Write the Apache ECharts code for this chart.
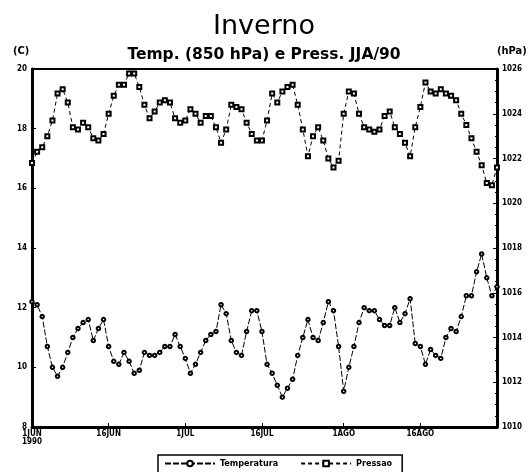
<!DOCTYPE html>
<html>
<head>
<meta charset="utf-8">
<script src="https://cdn.jsdelivr.net/npm/echarts@6/dist/echarts.min.js"></script>
<style>
  html, body { margin: 0; padding: 0; background: #fff; }
  #chart { width: 528px; height: 472px; }
</style>
</head>
<body>
<div id="chart"></div>
<script>
// Daily series, 1 June to 31 August 1990
const months = ['JUN', 'JUL', 'AGO'];
const monthLengths = [30, 31, 31];

// 850 hPa temperature (°C), one value per day
const temperature = [
  12.2, 12.1, 11.7, 10.7, 10.0, 9.7, 10.0, 10.5, 11.0, 11.3,
  11.5, 11.6, 10.9, 11.3, 11.6, 10.7, 10.2, 10.1, 10.5, 10.2,
  9.8, 9.9, 10.5, 10.4, 10.4, 10.5, 10.7, 10.7, 11.1, 10.7,
  10.3, 9.8, 10.1, 10.5, 10.9, 11.1, 11.2, 12.1, 11.8, 10.9,
  10.5, 10.4, 11.2, 11.9, 11.9, 11.2, 10.1, 9.8, 9.4, 9.0,
  9.3, 9.6, 10.4, 11.0, 11.6, 11.0, 10.9, 11.5, 12.2, 11.9,
  10.7, 9.2, 10.0, 10.7, 11.5, 12.0, 11.9, 11.9, 11.6, 11.4,
  11.4, 12.0, 11.5, 11.8, 12.3, 10.8, 10.7, 10.1, 10.6, 10.4,
  10.3, 11.0, 11.3, 11.2, 11.7, 12.4, 12.4, 13.2, 13.8, 13.0,
  12.4, 12.7
];

// Surface pressure (hPa), one value per day
const pressure = [
  1021.8, 1022.3, 1022.5, 1023.0, 1023.7, 1024.9, 1025.1, 1024.5, 1023.4, 1023.3,
  1023.6, 1023.4, 1022.9, 1022.8, 1023.1, 1024.0, 1024.8, 1025.3, 1025.3, 1025.8,
  1025.8, 1025.2, 1024.4, 1023.8, 1024.1, 1024.5, 1024.6, 1024.5, 1023.8, 1023.6,
  1023.7, 1024.2, 1024.0, 1023.6, 1023.9, 1023.9, 1023.4, 1022.7, 1023.3, 1024.4,
  1024.3, 1024.2, 1023.6, 1023.1, 1022.8, 1022.8, 1023.7, 1024.9, 1024.5, 1025.0,
  1025.2, 1025.3, 1024.4, 1023.3, 1022.1, 1023.0, 1023.4, 1022.8, 1022.0, 1021.6,
  1021.9, 1024.0, 1025.0, 1024.9, 1024.0, 1023.4, 1023.3, 1023.2, 1023.3, 1023.9,
  1024.1, 1023.4, 1023.1, 1022.7, 1022.1, 1023.4, 1024.3, 1025.4, 1025.0, 1024.9,
  1025.1, 1024.9, 1024.8, 1024.6, 1024.0, 1023.5, 1022.9, 1022.3, 1021.7, 1020.9,
  1020.8, 1021.6
];

// Date axis labels
const tickIndex = [0, 15, 30, 45, 61, 76];
const tickText = ['1JUN\n1990', '16JUN', '1JUL', '16JUL', '1AGO', '16AGO'];

const days = [];
months.forEach((m, k) => {
  for (let d = 1; d <= monthLengths[k]; d++) days.push(d + m);
});

const small = 'DejaVu Sans Condensed, DejaVu Sans, sans-serif';

const chart = echarts.init(document.getElementById('chart'), null, { renderer: 'canvas' });

const valueAxis = (pos, min, max) => ({
  type: 'value', position: pos,
  min: min, max: max, interval: 2,
  axisLine: { show: true, lineStyle: { color: '#000', width: 3 } },
  axisTick: { show: true, inside: true, length: 4, lineStyle: { color: '#000' } },
  minorTick: { show: true, splitNumber: 4, length: 2, lineStyle: { color: '#000' } },
  axisLabel: {
    fontFamily: small, fontSize: 8, fontWeight: 'bold', color: '#000', margin: 5,
    formatter: (v) => String(v)
  },
  splitLine: { show: false }
});

chart.setOption({
  animation: false,
  backgroundColor: '#fff',
  title: [
    {
      text: 'Inverno', left: 'center', top: 8,
      textStyle: { fontFamily: 'DejaVu Sans', fontSize: 27, fontWeight: 'normal', color: '#000' }
    },
    {
      text: 'Temp. (850 hPa) e Press. JJA/90', left: 'center', top: 42,
      textStyle: { fontFamily: 'DejaVu Sans', fontSize: 15.5, fontWeight: 'bold', color: '#000' }
    }
  ],
  graphic: [
    { type: 'text', left: 13, top: 46, style: { text: '(C)', font: 'bold 11px ' + small, fill: '#000' } },
    { type: 'text', left: 497, top: 46, style: { text: '(hPa)', font: 'bold 11px ' + small, fill: '#000' } }
  ],
  grid: {
    left: 32, right: 31, top: 69, bottom: 45,
    show: true, borderColor: '#000', borderWidth: 2
  },
  legend: {
    data: ['Temperatura', 'Pressao'],
    left: 158, top: 455,
    padding: [4, 10, 14, 6],
    borderColor: '#000', borderWidth: 1.5,
    itemWidth: 50, itemHeight: 7, itemGap: 22,
    textStyle: { fontFamily: small, fontSize: 9, fontWeight: 'bold', color: '#000' }
  },
  xAxis: {
    type: 'category',
    data: days,
    boundaryGap: false,
    axisLine: { lineStyle: { color: '#000', width: 3 } },
    axisTick: {
      show: true, inside: true, length: 4,
      interval: (i) => tickIndex.includes(i),
      lineStyle: { color: '#000', width: 1 }
    },
    axisLabel: {
      interval: (i) => tickIndex.includes(i),
      formatter: (v, i) => tickText[tickIndex.indexOf(i)],
      fontFamily: small, fontSize: 8, fontWeight: 'bold', color: '#000',
      margin: 3, lineHeight: 8
    },
    splitLine: { show: false }
  },
  yAxis: [valueAxis('left', 8, 20), valueAxis('right', 1010, 1026)],
  series: [
    {
      name: 'Temperatura',
      type: 'line',
      yAxisIndex: 0,
      data: temperature,
      symbol: 'emptyCircle',
      symbolSize: 3.5,
      showAllSymbol: true,
      lineStyle: { color: '#000', width: 1, type: [6, 2] },
      itemStyle: { color: '#000', borderColor: '#000', borderWidth: 0.9 }
    },
    {
      name: 'Pressao',
      type: 'line',
      yAxisIndex: 1,
      data: pressure,
      symbol: 'emptyRect',
      symbolSize: 4,
      showAllSymbol: true,
      lineStyle: { color: '#000', width: 1, type: [4, 3] },
      itemStyle: { color: '#000', borderColor: '#000', borderWidth: 0.9 }
    }
  ]
});
</script>
</body>
</html>
